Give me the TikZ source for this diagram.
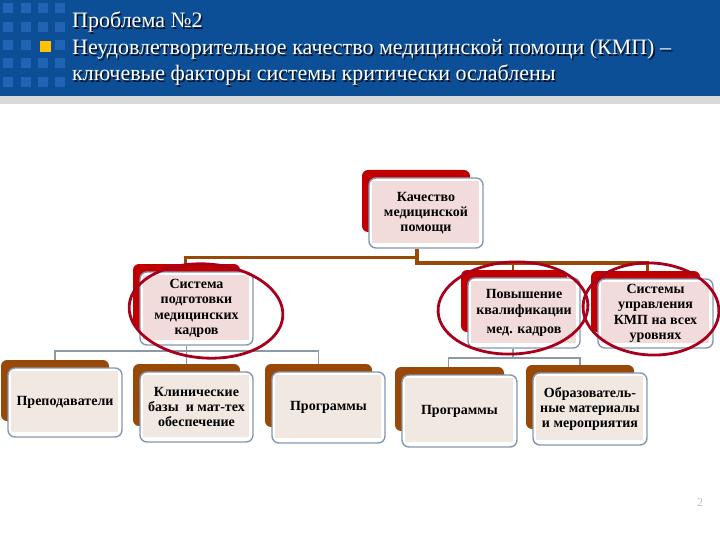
\documentclass[tikz,border=0pt]{standalone}
\usepackage{fontspec}
\setmainfont{Liberation Serif}
\usetikzlibrary{backgrounds}
\definecolor{hdrblue}{HTML}{0C4F97}
\definecolor{sqblue}{HTML}{2C74C6}
\definecolor{hdrgray}{HTML}{D9D9D9}
\definecolor{sqyellow}{HTML}{FFC000}
\definecolor{backred}{HTML}{C00000}
\definecolor{backbrown}{HTML}{984807}
\definecolor{fillpink}{HTML}{F2DCDB}
\definecolor{fillbeige}{HTML}{F2E8E2}
\definecolor{boxgray}{HTML}{8497B0}
\definecolor{linebrown}{HTML}{984807}
\definecolor{linegray}{HTML}{8C9AA8}
\definecolor{ringred}{HTML}{A8001C}
\newcommand{\mkbox}[8]{%
  \fill[#6, rounded corners=6pt] ({#2-#4/2-7},{#3-#5/2-8}) rectangle ++({#4-6},{#5-8});
  \node[wbox, minimum width=#4pt, minimum height=#5pt] (#1) at (#2,#3) {};
  \fill[#7] ([shift={(4pt,-4pt)}]#1.north west) rectangle ([shift={(-5pt,6pt)}]#1.south east);
  \node[btext] (#1-t) at (#1) {#8};
}
\tikzset{
  wbox/.style={draw=boxgray, line width=1.4pt, rounded corners=7pt, fill=white, inner sep=0pt},
  btext/.style={font=\fontsize{14}{15.3}\selectfont\bfseries, align=center, inner sep=0pt},
  ttext/.style={font=\fontsize{22}{24}\selectfont, anchor=base west, inner sep=0pt},
  brline/.style={draw=linebrown, line width=2.6pt},
  brthick/.style={draw=linebrown, line width=3.6pt},
  grline/.style={draw=linegray, line width=1.8pt},
  ring/.style={draw=ringred, line width=2.8pt},
}
\begin{document}
\begin{tikzpicture}[x=1pt,y=-1pt]
\useasboundingbox (0,0) rectangle (720,540);
% header
\fill[hdrblue] (0,0) rectangle (720,96);
\fill[hdrgray] (0,96) rectangle (720,104);
\foreach \cx in {3,21,38,55}{
  \foreach \cy in {3,22,40,58,77}{
    \fill[sqblue, opacity=0.6] (\cx,\cy) rectangle ++(10,10);
  }
}
\fill[hdrblue] (38,39) rectangle ++(16,16);
\fill[sqyellow] (40,41) rectangle ++(11,11);
\foreach \txt/\yy [count=\i] in {{Проблема №2}/28, {Неудовлетворительное качество медицинской помощи (КМП) –}/55, {ключевые факторы системы критически ослаблены}/81}{
  \node[ttext, text=black, opacity=0.8] (sh\i) at (73.5,\yy+1.5) {\txt};
  \node[ttext, text=white] (tl\i) at (72,\yy) {\txt};
}
% boxes
\mkbox{top}{426}{213}{114}{70}{backred}{fillpink}{Качество\\медицинской\\помощи}
\mkbox{sys}{196.5}{308.5}{113}{73}{backred}{fillpink}{Система\\подготовки\\медицинских\\кадров}
\mkbox{pov}{524}{313}{112}{70}{backred}{fillpink}{Повышение\\квалификации\\[4pt]мед. кадров}
\mkbox{cms}{655.5}{313.5}{115}{69}{backred}{fillpink}{Системы\\управления\\КМП на всех\\уровнях}
\mkbox{prep}{65}{402.5}{114}{69}{backbrown}{fillbeige}{Преподаватели}
\mkbox{klin}{196.5}{407}{113}{70}{backbrown}{fillbeige}{Клинические\\базы \ и мат-тех\\обеспечение}
\mkbox{progA}{328.5}{407.5}{113}{71}{backbrown}{fillbeige}{Программы}
\mkbox{progB}{459.5}{411}{115}{72}{backbrown}{fillbeige}{Программы}
\mkbox{obr}{590}{409}{114}{72}{backbrown}{fillbeige}{Образователь-\\ные материалы\\и мероприятия}
% connectors
\begin{pgfonlayer}{background}
\draw[brline] ([xshift=-9pt]top.south) -- ++(0,9) -| ([xshift=-11pt]sys.north);
\draw[brthick] ([xshift=-9pt]top.south) -- ++(0,14) -| ([xshift=-8pt]cms.north);
\draw[brline] ([xshift=-11pt]pov.north) -- ++(0,-12);
\draw[grline] ([xshift=-10pt]sys.south) -- ++(0,5) -| ([xshift=-10pt]prep.north);
\draw[grline] ([xshift=-10pt]sys.south) -- ++(0,5) -| ([xshift=-10pt]progA.north);
\draw[grline] ([xshift=-10pt]sys.south) -- ([xshift=-10pt]klin.north);
\draw[grline] ([xshift=-11pt]pov.south) -- ++(0,9) -| ([xshift=-11pt]progB.north);
\draw[grline] ([xshift=-11pt]pov.south) -- ++(0,9) -| ([xshift=-10pt]obr.north);
\end{pgfonlayer}
% rings
\draw[ring, rotate around={-4:(206,311)}] (206,311) ellipse [x radius=77, y radius=47];
\draw[ring, rotate around={3:(513,308)}] (513,308) ellipse [x radius=75, y radius=46];
\draw[ring, rotate around={-3:(651,309)}] (651,309) ellipse [x radius=68, y radius=46];
% page number
\node[text=black!25, font=\fontsize{12}{12}\selectfont, inner sep=0pt] (pg) at (700,503) {2};
\end{tikzpicture}
\end{document}
